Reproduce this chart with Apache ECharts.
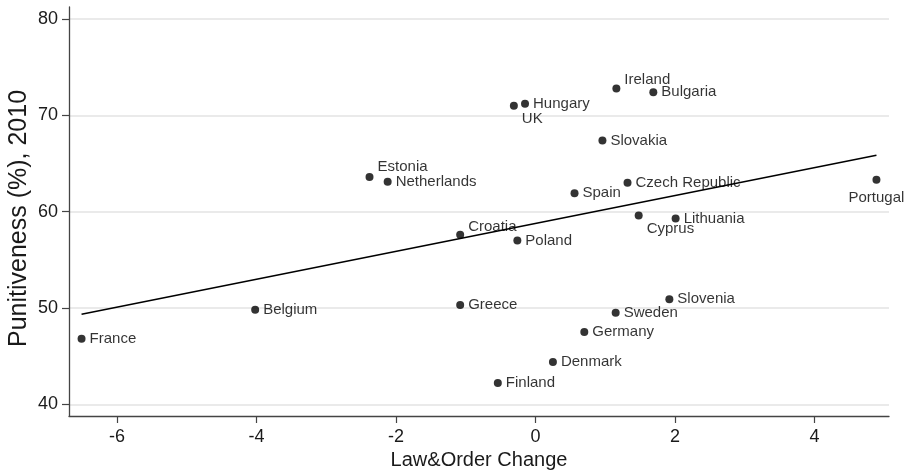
<!DOCTYPE html>
<html>
<head>
<meta charset="utf-8">
<script src="https://cdn.jsdelivr.net/npm/echarts@6/dist/echarts.min.js"></script>
<style>
html,body{margin:0;padding:0;background:#fff;}
#chart{width:907px;height:471px;}
</style>
</head>
<body>
<div id="chart"></div>
<script>
// ---- data ----
const countries = ['France','Belgium','Estonia','Netherlands','Croatia','Greece','Finland','UK','Hungary','Poland','Denmark','Spain','Germany','Slovakia','Sweden','Ireland','Czech Republic','Cyprus','Bulgaria','Slovenia','Lithuania','Portugal'];
const lawOrderChange = [-6.51,-4.02,-2.38,-2.12,-1.08,-1.08,-0.54,-0.31,-0.15,-0.26,0.25,0.56,0.70,0.96,1.15,1.16,1.32,1.48,1.69,1.92,2.01,4.89];
const punitiveness = [46.8,49.8,63.6,63.1,57.6,50.3,42.2,71.0,71.2,57.0,44.4,61.9,47.5,67.4,49.5,72.8,63.0,59.6,72.4,50.9,59.3,63.3];
const fitX = [-6.51, 4.89];
const fitY = [49.34, 65.86];
const xTicks = [-6,-4,-2,0,2,4];
const yTicks = [40,50,60,70,80];
const xRange = [-6.69, 5.07];
const yRange = [38.78, 81.25];

// label placement exceptions (style, not data)
const labelOffsets = {
  'UK': {position:'right', offset:[0,13]},
  'Cyprus': {position:'right', offset:[0,13]},
  'Ireland': {position:'right', offset:[0,-9]},
  'Estonia': {position:'right', offset:[0,-10]},
  'Croatia': {position:'right', offset:[0,-8]},
  'Portugal': {position:'bottom', offset:[0,0], distance:6}
};

const points = countries.map((c,i) => {
  const p = {name:c, value:[lawOrderChange[i], punitiveness[i]]};
  if (labelOffsets[c]) p.label = Object.assign({}, labelOffsets[c]);
  return p;
});

const chart = echarts.init(document.getElementById('chart'), null, {renderer:'canvas'});
const FONT = "'Liberation Sans', Arial, Helvetica, sans-serif";
chart.setOption({
  animation:false,
  backgroundColor:'#ffffff',
  grid:{left:69, right:18, top:7, bottom:55, containLabel:false, outerBoundsMode:'none'},
  xAxis:{
    type:'value', min:xRange[0], max:xRange[1],
    name:'Law&Order Change', nameLocation:'middle', nameGap:34,
    nameTextStyle:{fontFamily:FONT, fontSize:20, color:'#1a1a1a'},
    axisLine:{show:true, onZero:false, lineStyle:{color:'#444', width:1.3}},
    axisTick:{show:true, inside:false, length:7, customValues:xTicks, lineStyle:{color:'#444', width:1.2}},
    axisLabel:{customValues:xTicks, margin:12, fontFamily:FONT, fontSize:18, color:'#1a1a1a'},
    splitLine:{show:false}
  },
  yAxis:{
    type:'value', min:yRange[0], max:yRange[1],
    name:'Punitiveness (%), 2010', nameLocation:'middle', nameGap:37, nameRotate:90, nameMoveOverlap:false,
    nameTextStyle:{fontFamily:FONT, fontSize:25, color:'#1a1a1a', padding:[0,14,0,0]},
    axisLine:{show:true, onZero:false, lineStyle:{color:'#444', width:1.3}},
    axisTick:{show:true, inside:false, length:7, customValues:yTicks, lineStyle:{color:'#444', width:1.2}},
    axisLabel:{customValues:yTicks, margin:11, fontFamily:FONT, fontSize:18, color:'#1a1a1a'},
    splitLine:{show:false}
  },
  series:[
    {
      type:'scatter',
      data:[],
      silent:true,
      z:0,
      markLine:{
        z:0, zlevel:0,
        silent:true, symbol:'none', animation:false,
        label:{show:false},
        lineStyle:{color:'#e3e3e3', type:'solid', width:1.5},
        data: yTicks.map(v => ({yAxis:v}))
      }
    },
    {
      type:'line',
      data: fitX.map((x,i)=>[x, fitY[i]]),
      symbol:'none',
      lineStyle:{color:'#000', width:1.6},
      z:2
    },
    {
      type:'scatter',
      data:points,
      symbol:'circle', symbolSize:8,
      itemStyle:{color:'#000'},
      label:{show:true, position:'right', distance:4, formatter:'{b}', fontFamily:FONT, fontSize:15, color:'#000'},
      z:6
    }
  ]
});
</script>
</body>
</html>
